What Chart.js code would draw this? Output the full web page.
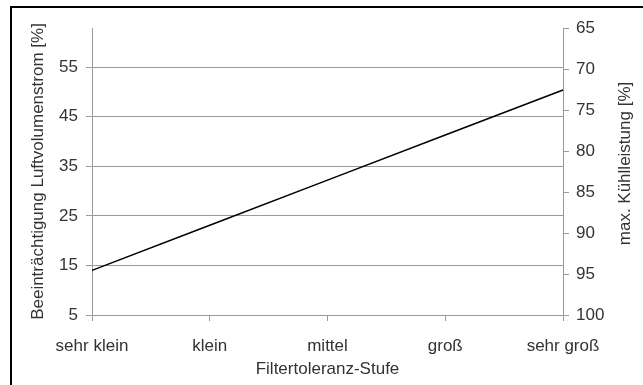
<!DOCTYPE html>
<html>
<head>
<meta charset="utf-8">
<script src="https://cdn.jsdelivr.net/npm/chart.js@4"></script>
<style>
  body { margin: 0; background: #fff; overflow: hidden; }
  #wrap { position: relative; width: 643px; height: 385px; overflow: hidden; }
  #frame { position: absolute; left: 10px; top: 6px; width: 700px; height: 450px; border: 2px solid #000; }
  #myChart { position: absolute; left: 0; top: 0; }
</style>
</head>
<body>
<div id="wrap">
  <div id="frame"></div>
  <canvas id="myChart" width="643" height="385"></canvas>
</div>
<script>
const stufen = ["sehr klein", "klein", "mittel", "groß", "sehr groß"];
const luftvolumen = [14.0, 23.1, 32.2, 41.3, 50.4];
const leftTicks = [5, 15, 25, 35, 45, 55];
const rightTicks = [65, 70, 75, 80, 85, 90, 95, 100];

const ctx = document.getElementById('myChart');
const gray = '#9a9a9a';
const textColor = '#333';

Chart.defaults.font.family = "'Liberation Sans', Arial, sans-serif";
Chart.defaults.font.size = 17;
Chart.defaults.color = textColor;

// right axis title reads bottom-to-top, chart.js would rotate it the other way
const rightTitle = {
    id: 'rightTitle',
    afterDraw(chart) {
        const c = chart.ctx;
        const s = chart.scales.y2;
        c.save();
        c.translate(s.right - 18, (s.top + s.bottom) / 2 - 8);
        c.rotate(-Math.PI / 2);
        c.font = "17px 'Liberation Sans', Arial, sans-serif";
        c.fillStyle = textColor;
        c.textAlign = 'center';
        c.textBaseline = 'middle';
        c.fillText('max. Kühlleistung [%]', 0, 0);
        c.restore();
    }
};

new Chart(ctx, {
    type: 'line',
    data: {
        labels: stufen,
        datasets: [{
            data: luftvolumen,
            yAxisID: 'y',
            borderColor: '#000',
            borderWidth: 1.5,
            pointRadius: 0,
            tension: 0
        }]
    },
    plugins: [rightTitle],
    options: {
        responsive: false,
        animation: false,
        layout: { padding: { top: 28, left: 0, right: 0, bottom: 0 } },
        plugins: { legend: { display: false }, tooltip: { enabled: false } },
        scales: {
            x: {
                offset: false,
                grid: { drawOnChartArea: false, color: gray, tickLength: 6 },
                border: { color: gray },
                ticks: { padding: 15, maxRotation: 0 },
                afterFit: s => { s.height = 70; },
                title: { display: true, text: 'Filtertoleranz-Stufe', padding: { top: 0, bottom: 5 } }
            },
            y: {
                position: 'left',
                min: 5,
                max: 62.9,
                afterBuildTicks: s => { s.ticks = leftTicks.map(v => ({ value: v })); },
                afterFit: s => { s.width = 92; },
                grid: { color: gray, tickLength: 6 },
                border: { color: gray },
                ticks: { padding: 8 },
                title: { display: true, text: 'Beeinträchtigung Luftvolumenstrom [%]', padding: { top: 28, bottom: 0 } }
            },
            y2: {
                position: 'right',
                reverse: true,
                min: 65,
                max: 100,
                afterBuildTicks: s => { s.ticks = rightTicks.map(v => ({ value: v })); },
                afterFit: s => { s.width = 80; },
                grid: { drawOnChartArea: false, color: gray, tickLength: 6 },
                border: { color: gray },
                ticks: { padding: 7 }
            }
        }
    }
});
</script>
</body>
</html>
